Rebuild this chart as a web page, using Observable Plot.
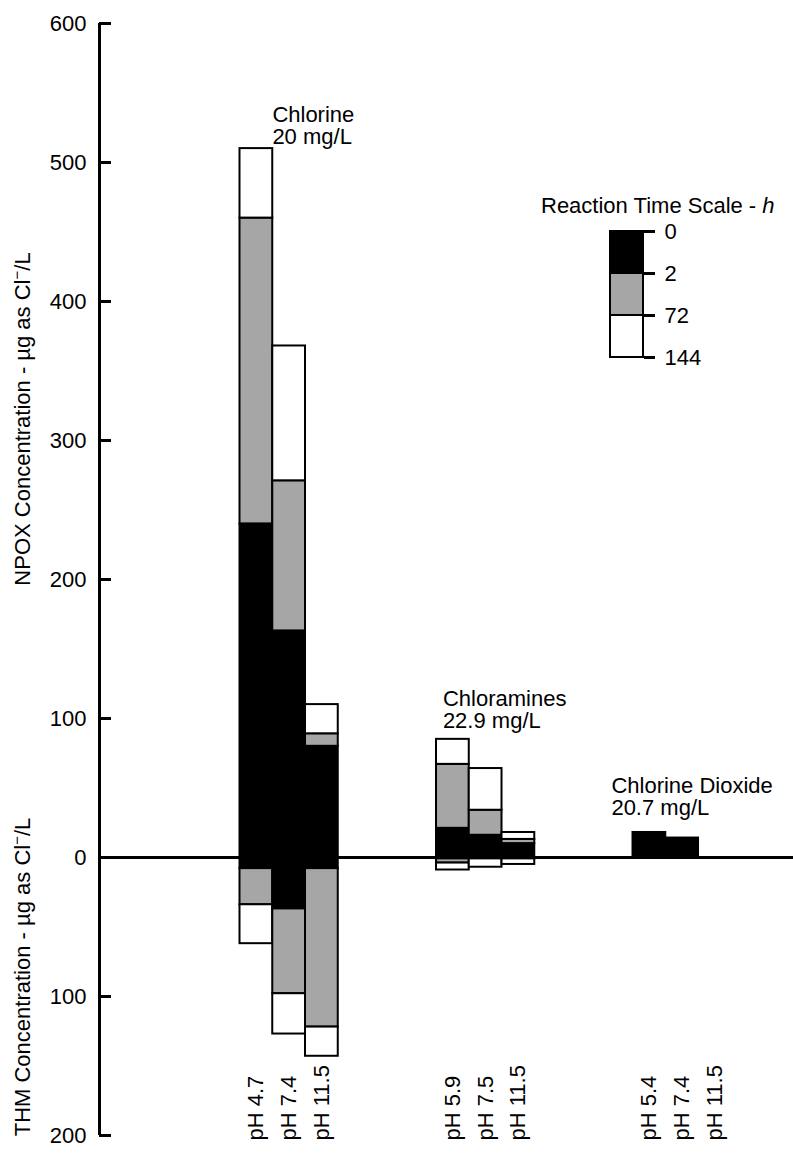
<!DOCTYPE html>
<html><head><meta charset="utf-8">
<script src="https://cdn.jsdelivr.net/npm/d3@7"></script>
<script src="https://cdn.jsdelivr.net/npm/@observablehq/plot@0.6"></script>
<style>
body{margin:0;background:#fff;}
#wrap{position:relative;width:793px;height:1155px;font-family:"Liberation Sans",Arial,sans-serif;font-size:22px;color:#000;overflow:hidden;}
#wrap svg{position:absolute;overflow:visible;}
.ylab{position:absolute;width:600px;text-align:center;white-space:nowrap;line-height:22px;transform-origin:0 0;transform:rotate(-90deg);}
.sup{font-size:15px;position:relative;top:-8px;}
#ltitle{position:absolute;left:541px;top:195px;line-height:22px;white-space:nowrap;}
</style></head><body><div id="wrap"></div>
<script>
// ---- data ----
const disinfectants = ["Chlorine", "Chloramines", "Chlorine Dioxide"];
const doses = ["20 mg/L", "22.9 mg/L", "20.7 mg/L"];
const phLabels = [
  ["pH 4.7", "pH 7.4", "pH 11.5"],
  ["pH 5.9", "pH 7.5", "pH 11.5"],
  ["pH 5.4", "pH 7.4", "pH 11.5"]
];
// NPOX (upwards), cumulative at reaction times 2 h, 72 h, 144 h
const npox2h   = [240, 163, 80, 21, 16, 10, 18, 14, 0];
const npox72h  = [460, 271, 89, 67, 34, 13, 18, 14, 0];
const npox144h = [510, 368, 110, 85, 64, 18, 18, 14, 0];
// THM (downwards), cumulative at 2 h, 72 h, 144 h
const thm2h   = [8, 37, 8, 1, 0, 0, 0, 0, 0];
const thm72h  = [34, 98, 122, 4, 1, 1, 0, 0, 0];
const thm144h = [62, 127, 143, 9, 7, 5, 0, 0, 0];
const timeLabels = ["0", "2", "72", "144"];
const yTicks = [-200, -100, 0, 100, 200, 300, 400, 500, 600];

// ---- build ----
const segFills = ["#000000", "#a6a6a6", "#ffffff"];
const yDomain = [-200, 600];
const xDomain = [-4.79, 16.4];
const bars = [];
disinfectants.forEach((name, g) => phLabels[g].forEach((ph, p) => {
  bars.push({name, ph, i: g * 3 + p, slot: g * 6 + p});
}));
const segs = [];
bars.forEach(b => {
  const up = [0, npox2h[b.i], npox72h[b.i], npox144h[b.i]];
  const dn = [0, -thm2h[b.i], -thm72h[b.i], -thm144h[b.i]];
  for (let k = 0; k < 3; k++) {
    if (up[k + 1] !== up[k]) segs.push({slot: b.slot, y1: up[k], y2: up[k + 1], fill: segFills[k]});
    if (dn[k + 1] !== dn[k]) segs.push({slot: b.slot, y1: dn[k], y2: dn[k + 1], fill: segFills[k]});
  }
});
const groups = disinfectants.map((name, g) => ({
  name, dose: doses[g], slot: g * 6,
  top: d3.max(bars.filter(b => b.name === name), b => npox144h[b.i])
}));
const labelDx = [16, -10, -38];
const labelDy = [-5, -11, -17];

const font = "Liberation Sans, Arial, sans-serif";
const main = Plot.plot({
  width: 793, height: 1155,
  marginLeft: 99, marginRight: 0, marginTop: 23, marginBottom: 20,
  style: {fontFamily: font, fontSize: "22px", background: "transparent", color: "black"},
  x: {domain: xDomain, axis: null},
  y: {domain: yDomain, label: null},
  color: {type: "identity"},
  marks: [
    Plot.rect(segs, {x1: d => d.slot - 0.5, x2: d => d.slot + 0.5, y1: "y1", y2: "y2", fill: "fill", stroke: "black", strokeWidth: 2}),
    Plot.ruleY([0], {stroke: "black", strokeWidth: 3}),
    Plot.ruleX([xDomain[0]], {y1: yDomain[0], y2: yDomain[1], stroke: "black", strokeWidth: 3}),
    Plot.axisY({ticks: yTicks, tickSize: -12, tickPadding: 25, strokeWidth: 3, tickFormat: d => String(Math.abs(d)), fontSize: 22, fill: "black", label: null}),
    Plot.text(bars, {x: "slot", y: yDomain[0], text: "ph", rotate: -90, textAnchor: "start", dy: 5, fontSize: 22, fill: "black"}),
    ...groups.map((gr, g) => Plot.text([gr], {x: "slot", y: "top", text: d => d.name + "\n" + d.dose, textAnchor: "start", lineAnchor: "bottom", lineHeight: 1.0, dx: labelDx[g], dy: labelDy[g], fontSize: 22, fill: "black"}))
  ]
});
main.style.left = "0px"; main.style.top = "0px";

const legend = Plot.plot({
  width: 120, height: 160,
  marginLeft: 10, marginRight: 77, marginTop: 16, marginBottom: 18,
  style: {fontFamily: font, fontSize: "22px", background: "transparent", color: "black"},
  x: {domain: [0, 1], axis: null},
  y: {domain: [0, timeLabels.length - 1], reverse: true, label: null},
  color: {type: "identity"},
  marks: [
    Plot.rect(segFills, {x1: 0, x2: 1, y1: (d, i) => i, y2: (d, i) => i + 1, fill: d => d, stroke: "black", strokeWidth: 2}),
    Plot.axisY({anchor: "right", ticks: timeLabels.map((t, i) => i), tickFormat: i => timeLabels[i], tickSize: 11, tickPadding: 10, strokeWidth: 3, fontSize: 22, fill: "black", label: null})
  ]
});
legend.style.left = "600px"; legend.style.top = "215px";

const wrap = document.getElementById("wrap");
wrap.appendChild(main);
wrap.appendChild(legend);

const t = document.createElement("div");
t.id = "ltitle";
t.innerHTML = "Reaction Time Scale - <i>h</i>";
wrap.appendChild(t);

function yLab(html, cy) {
  const d = document.createElement("div");
  d.className = "ylab";
  d.innerHTML = html;
  d.style.left = "12px";
  d.style.top = (cy + 300) + "px";
  wrap.appendChild(d);
}
yLab('NPOX Concentration - µg as Cl<span class="sup">−</span>/L', 419);
yLab('THM Concentration - µg as Cl<span class="sup">−</span>/L', 977);
</script></body></html>
